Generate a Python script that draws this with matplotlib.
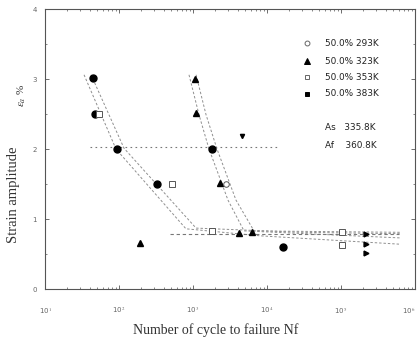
import matplotlib
matplotlib.use("Agg")
import matplotlib.pyplot as plt
from matplotlib.ticker import LogLocator, NullFormatter, FixedLocator

# ---------------- data ----------------
# 293 K (open circles)
n_293 = [2790]
e_293 = [1.50]
# 323 K (filled triangles)
n_323 = [1065, 1097, 2317, 4190, 6270, 192]
e_323 = [3.00, 2.51, 1.51, 0.80, 0.81, 0.66]
# 353 K (open squares)
n_353 = [53, 520, 1810, 103000, 103000]
e_353 = [2.50, 1.50, 0.83, 0.81, 0.63]
# 383 K (filled circles)
n_383 = [44.6, 48, 94, 327, 1810, 16400]
e_383 = [3.01, 2.50, 2.00, 1.50, 2.00, 0.60]
# run-outs (arrows)
n_run = [220000, 220000, 220000]
e_run = [0.79, 0.64, 0.51]
# stray mark
n_misc = [4590]
e_misc = [2.19]

# fitted curves (two per group)
curve_la_n = [33.7, 91, 803, 8030, 627000]
curve_la_e = [3.06, 2.00, 0.86, 0.76, 0.64]
curve_lb_n = [41.9, 117, 1100, 27900, 627000]
curve_lb_e = [3.06, 2.01, 0.87, 0.81, 0.79]
curve_ra_n = [883, 1205, 1645, 2970, 4890, 627000]
curve_ra_e = [3.06, 2.49, 2.00, 1.27, 0.83, 0.73]
curve_rb_n = [1100, 1500, 2110, 3810, 6670, 627000]
curve_rb_e = [3.06, 2.49, 2.00, 1.27, 0.83, 0.81]

# horizontal reference lines
ref_hi_n = [40.5, 13650]
ref_hi_e = [2.03, 2.03]
ref_lo_n = [490, 600000]
ref_lo_e = [0.79, 0.79]

legend_labels = ["50.0% 293K", "50.0% 323K", "50.0% 353K", "50.0% 383K"]
trans_labels = ["As   335.8K", "Af    360.8K"]
x_ticks = [1e1, 1e2, 1e3, 1e4, 1e5, 1e6]
y_ticks = [0, 1, 2, 3, 4]

# ---------------- figure ----------------
plt.rcParams["mathtext.fontset"] = "stix"
W, H = 419, 342
fig = plt.figure(figsize=(W / 100, H / 100), dpi=100)
ax = fig.add_axes([45 / W, 1 - 289 / H, (415 - 45) / W, (289 - 9) / H])

ax.set_xscale("log")
ax.set_xlim(1e1, 1e6)
ax.set_ylim(0, 4)

gray = "#8f8f8f"
for cn, ce in [(curve_la_n, curve_la_e), (curve_lb_n, curve_lb_e),
               (curve_ra_n, curve_ra_e), (curve_rb_n, curve_rb_e)]:
    ax.plot(cn, ce, ls=(0, (2.5, 2)), color=gray, lw=0.7)
ax.plot(ref_hi_n, ref_hi_e, ls=(0, (1.5, 3)), color="#777777", lw=0.8)
ax.plot(ref_lo_n, ref_lo_e, ls=(0, (3, 2.5)), color="#777777", lw=0.8)

ms = 5
ax.plot(n_383, e_383, "o", color="black", ms=ms, ls="none")
ax.plot(n_323, e_323, "^", color="black", ms=ms, ls="none")
ax.plot(n_353, e_353, "s", mfc="white", mec="#555555", mew=0.7, ms=4, ls="none")
ax.plot(n_293, e_293, "o", mfc="white", mec="#555555", mew=0.7, ms=4, ls="none")
ax.plot(n_run, e_run, ">", color="black", ms=3.5, ls="none")
ax.plot(n_misc, e_misc, "v", color="black", ms=3, ls="none")

# legend (manual)
leg_y = [43, 61, 77, 94]
leg_m = [dict(marker="o", mfc="white", mec="#666666", ms=3.5),
         dict(marker="^", mfc="black", mec="black", ms=4),
         dict(marker="s", mfc="white", mec="#666666", ms=3.5),
         dict(marker="s", mfc="black", mec="black", ms=3.5)]
for yy, lab, mk in zip(leg_y, legend_labels, leg_m):
    fy = 1 - yy / H
    fig.lines.append(plt.Line2D([307 / W], [fy], transform=fig.transFigure,
                                ls="none", mew=0.7, **mk))
    fig.text(325 / W, fy, lab, fontsize=6.4, va="center", ha="left",
             color="#222222", family="DejaVu Sans")
for yy, lab in zip([127, 146], trans_labels):
    fig.text(325 / W, 1 - yy / H, lab, fontsize=6.4, va="center", ha="left",
             color="#222222", family="DejaVu Sans")

# axes styling
for s in ax.spines.values():
    s.set_color("#555555")
    s.set_linewidth(0.8)
ax.spines["top"].set_linestyle((0, (4, 1)))
ax.spines["bottom"].set_linestyle((0, (4, 1)))

ax.xaxis.set_major_locator(FixedLocator(x_ticks))
ax.xaxis.set_minor_locator(LogLocator(base=10, subs=range(2, 10)))
ax.xaxis.set_minor_formatter(NullFormatter())
ax.set_xticks(x_ticks)
ax.set_xticklabels([r"10$^{%d}$" % i for i in range(1, 7)])
ax.set_yticks(y_ticks)
ax.set_yticks([0.5, 1.5, 2.5, 3.5], minor=True)
ax.tick_params(which="both", direction="in", top=True, right=True,
               colors="#555555", labelcolor="#666666", labelsize=5)
ax.tick_params(which="major", length=3, width=0.6)
ax.tick_params(which="minor", length=1.5, width=0.5)
ax.tick_params(axis="x", pad=12)
ax.tick_params(axis="y", pad=6)
# keep last x label inside the canvas
ax.get_xticklabels()[-1].set_horizontalalignment("right")

# axis titles placed as in the reference
fig.text(216 / W, 1 - 330 / H, "Number of cycle to failure Nf",
         family="Liberation Serif", fontsize=10, color="#333333",
         ha="center", va="center")
fig.text(13 / W, 1 - 195 / H, "Strain amplitude", family="Liberation Serif",
         fontsize=10.5, color="#333333", ha="center", va="center", rotation=90)
fig.text(22 / W, 1 - 96 / H, r"$\varepsilon_a$ %", family="Liberation Serif",
         fontsize=8, color="#333333", ha="center", va="center", rotation=90)

fig.savefig("out.png", dpi=100)
